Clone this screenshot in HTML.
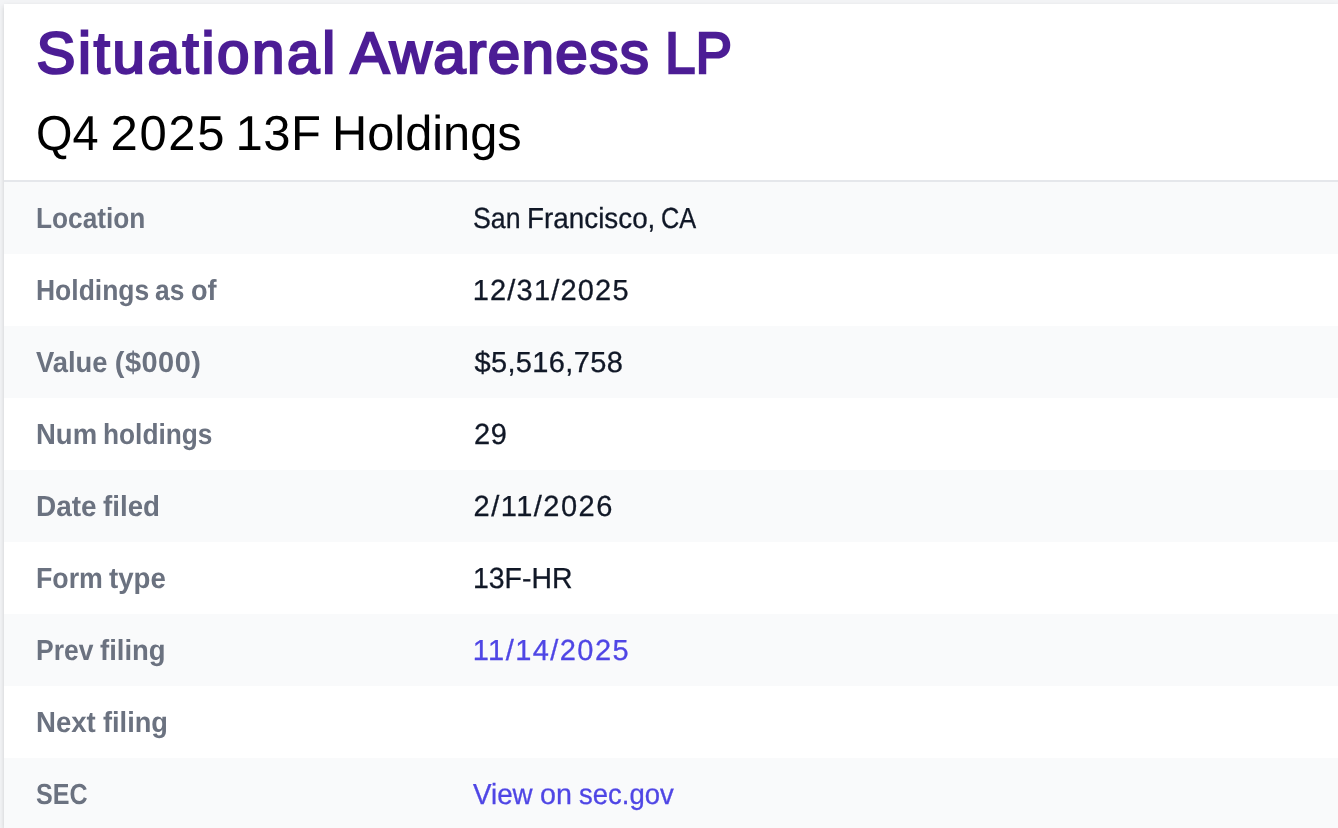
<!DOCTYPE html>
<html lang="en">
<head>
<meta charset="utf-8">
<title>Situational Awareness LP - Q4 2025 13F Holdings</title>
<style>
html,body{margin:0;padding:0;overflow:hidden;}
body{width:1338px;height:828px;overflow:hidden;position:relative;background:#f3f4f6;font-family:"Liberation Sans",Arial,Helvetica,sans-serif;text-rendering:geometricPrecision;}
.card{position:absolute;left:4px;top:4px;width:1334px;height:824px;overflow:hidden;background:#fff;box-shadow:0 2px 6px rgba(0,0,0,0.1), 0 2px 4px rgba(0,0,0,0.06);}
.head{position:relative;height:176px;border-bottom:2px solid #e5e7eb;}
h1,h2,dl,dt,dd{margin:0;padding:0;font-weight:400;}
h1,h2,dt,dd{position:absolute;left:0;white-space:nowrap;}
h1{top:13.75px;height:72px;font-size:58.3px;font-weight:400;color:#4c1d95;line-height:72px;-webkit-text-stroke:2.4px #4c1d95;}
h2{top:97.8px;height:64px;font-size:49.0px;font-weight:400;color:#000000;line-height:64px;}
.row{position:relative;height:72px;background:#fff;}
.row.alt{background:#f9fafb;}
dt{top:17.1px;height:40px;font-size:29px;font-weight:700;color:#6b7280;line-height:40px;}
dd{top:16.75px;height:40px;font-size:29px;font-weight:400;color:#111827;line-height:40px;-webkit-text-stroke:0.3px #111827;}
a{text-decoration:none;font-size:29px;font-weight:400;color:#4f46e5;line-height:40px;-webkit-text-stroke:0.3px #4f46e5;}
span{display:inline-block;transform-origin:0 50%;}
</style>
</head>
<body>
<div class="card">
  <div class="head">
    <h1><span style="margin-left:32.58px;letter-spacing:2.63px;">Situational</span> <span style="margin-left:-3.48px;letter-spacing:1.38px;">Awareness</span> <span style="margin-left:-0.99px;transform:scaleX(0.9396);">LP</span></h1>
    <h2><span style="margin-left:31.93px;transform:scaleX(0.9573);">Q4</span> <span style="margin-left:-4.41px;letter-spacing:1.67px;">2025</span> <span style="margin-left:-4.29px;letter-spacing:0.44px;">13F</span> <span style="margin-left:-2.56px;transform:scaleX(0.9951);">Holdings</span></h2>
  </div>
  <dl>
    <div class="row alt">
      <dt><span style="margin-left:32.05px;transform:scaleX(0.9051);">Location</span></dt>
      <dd><span style="margin-left:468.76px;transform:scaleX(0.9216);">San</span> <span style="margin-left:-5.58px;transform:scaleX(0.9596);">Francisco,</span> <span style="margin-left:-7.79px;transform:scaleX(0.8744);">CA</span></dd>
    </div>
    <div class="row">
      <dt><span style="margin-left:31.84px;transform:scaleX(0.9126);">Holdings</span> <span style="margin-left:-12.57px;transform:scaleX(0.9089);">as</span> <span style="margin-left:-4.93px;transform:scaleX(0.9349);">of</span></dt>
      <dd><span style="margin-left:468.69px;letter-spacing:1.19px;">12/31/2025</span></dd>
    </div>
    <div class="row alt">
      <dt><span style="margin-left:32.07px;transform:scaleX(0.9442);">Value</span> <span style="margin-left:-5.13px;letter-spacing:0.47px;">($000)</span></dt>
      <dd><span style="margin-left:470.44px;letter-spacing:0.37px;">$5,516,758</span></dd>
    </div>
    <div class="row">
      <dt><span style="margin-left:31.78px;transform:scaleX(0.9487);">Num</span> <span style="margin-left:-5.12px;transform:scaleX(0.9062);">holdings</span></dt>
      <dd><span style="margin-left:469.93px;letter-spacing:0.72px;">29</span></dd>
    </div>
    <div class="row alt">
      <dt><span style="margin-left:31.74px;transform:scaleX(0.9635);">Date</span> <span style="margin-left:-3.72px;transform:scaleX(0.9563);">filed</span></dt>
      <dd><span style="margin-left:469.54px;letter-spacing:1.49px;">2/11/2026</span></dd>
    </div>
    <div class="row">
      <dt><span style="margin-left:31.82px;transform:scaleX(0.9227);">Form</span> <span style="margin-left:-7.1px;transform:scaleX(0.9529);">type</span></dt>
      <dd><span style="margin-left:468.93px;transform:scaleX(0.9794);">13F-HR</span></dd>
    </div>
    <div class="row alt">
      <dt><span style="margin-left:31.85px;transform:scaleX(0.9132);">Prev</span> <span style="margin-left:-6.65px;transform:scaleX(0.948);">filing</span></dt>
      <dd><a href="#"><span style="margin-left:468.71px;letter-spacing:1.43px;">11/14/2025</span></a></dd>
    </div>
    <div class="row">
      <dt><span style="margin-left:31.77px;transform:scaleX(0.9516);">Next</span> <span style="margin-left:-3.74px;transform:scaleX(0.9375);">filing</span></dt>
      <dd></dd>
    </div>
    <div class="row alt">
      <dt><span style="margin-left:31.86px;transform:scaleX(0.8655);">SEC</span></dt>
      <dd><a href="#"><span style="margin-left:469.07px;transform:scaleX(0.9571);">View</span> <span style="margin-left:-3.03px;transform:scaleX(0.9882);">on</span> <span style="margin-left:-2.12px;transform:scaleX(0.9473);">sec.gov</span></a></dd>
    </div>
  </dl>
</div>
</body>
</html>
